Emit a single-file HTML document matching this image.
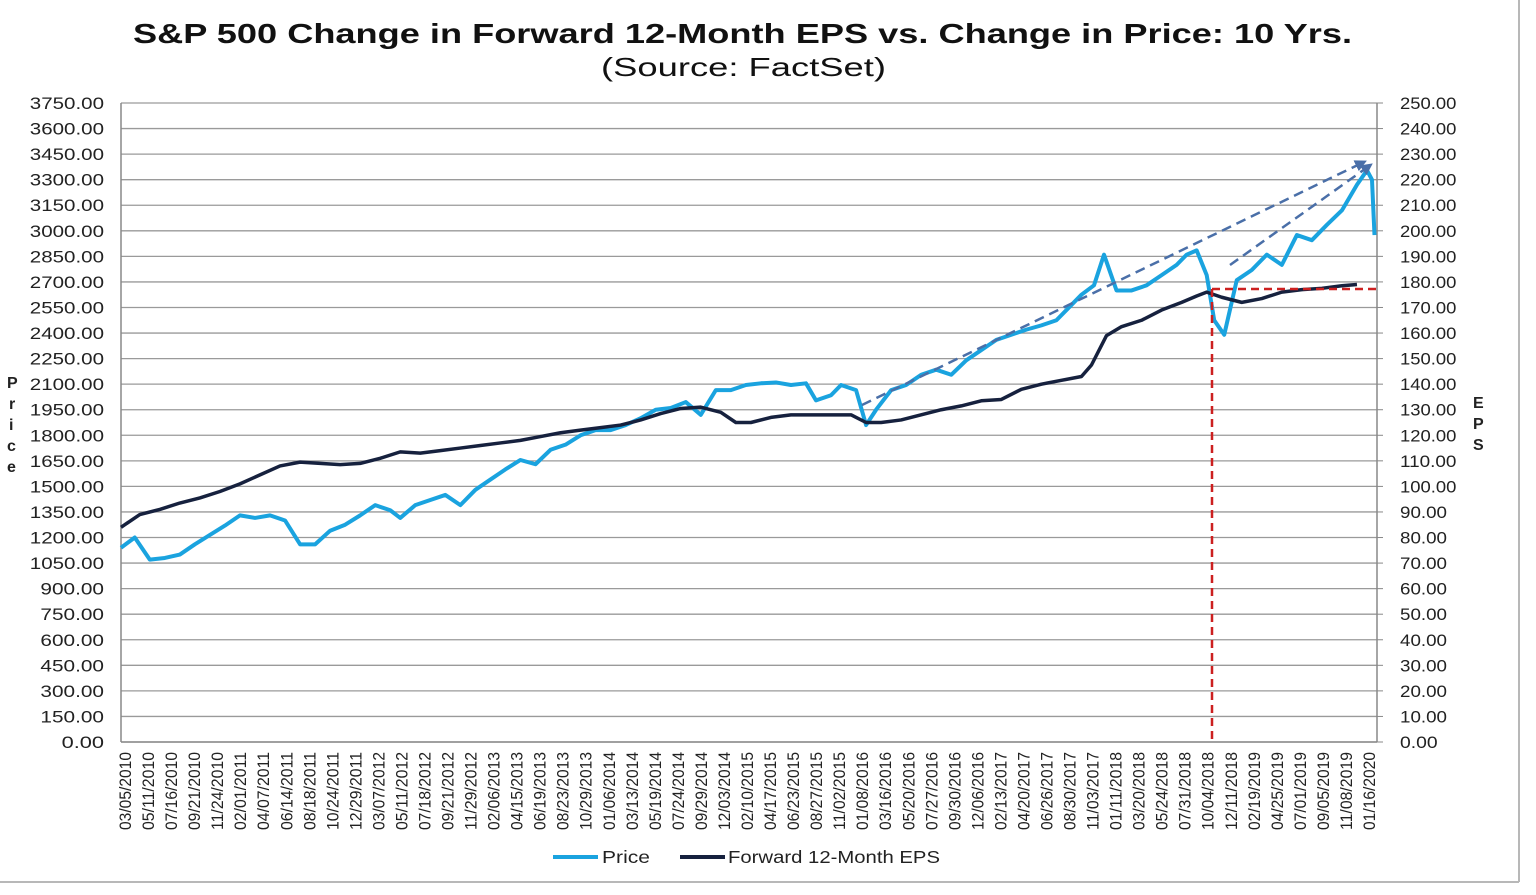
<!DOCTYPE html>
<html><head><meta charset="utf-8"><style>
html,body{margin:0;padding:0;background:#fff;}
svg{display:block;font-family:"Liberation Sans",Arial,sans-serif;}
</style></head><body>
<svg id="chart" width="1536" height="895" viewBox="0 0 1536 895" xmlns="http://www.w3.org/2000/svg">
<rect x="0" y="0" width="1536" height="895" fill="#fff"/>
<line x1="0" y1="882" x2="1519" y2="882" stroke="#b8b8b8" stroke-width="2"/>
<line x1="1519" y1="0" x2="1519" y2="882" stroke="#b8b8b8" stroke-width="2"/>
<text x="133" y="43" textLength="1219" lengthAdjust="spacingAndGlyphs" font-size="28" font-weight="bold" fill="#111">S&amp;P 500 Change in Forward 12-Month EPS vs. Change in Price: 10 Yrs.</text>
<text x="601" y="76" textLength="285" lengthAdjust="spacingAndGlyphs" font-size="26" fill="#111">(Source: FactSet)</text>
<g id="grid"></g><g id="axes"></g><g id="series"></g><g id="annot"></g>
<text x="12" y="388" font-size="16" font-weight="bold" fill="#222"><tspan x="7" dy="0">P</tspan><tspan x="9" dy="21">r</tspan><tspan x="9" dy="21">i</tspan><tspan x="7" dy="21">c</tspan><tspan x="7" dy="21">e</tspan></text>
<text font-size="16" font-weight="bold" fill="#222" y="408"><tspan x="1473" dy="0">E</tspan><tspan x="1473" dy="21">P</tspan><tspan x="1473" dy="21">S</tspan></text>
<g>
<line x1="553" y1="857" x2="598" y2="857" stroke="#1aa3df" stroke-width="4"/>
<text x="602" y="863" textLength="48" lengthAdjust="spacingAndGlyphs" font-size="17.5" fill="#222">Price</text>
<line x1="680" y1="857" x2="725" y2="857" stroke="#16213e" stroke-width="4"/>
<text x="728" y="863" textLength="212" lengthAdjust="spacingAndGlyphs" font-size="17.5" fill="#222">Forward 12-Month EPS</text>
</g>
</svg>
<script>
const dateLabels=["03/05/2010","05/11/2010","07/16/2010","09/21/2010","11/24/2010","02/01/2011","04/07/2011","06/14/2011","08/18/2011","10/24/2011","12/29/2011","03/07/2012","05/11/2012","07/18/2012","09/21/2012","11/29/2012","02/06/2013","04/15/2013","06/19/2013","08/23/2013","10/29/2013","01/06/2014","03/13/2014","05/19/2014","07/24/2014","09/29/2014","12/03/2014","02/10/2015","04/17/2015","06/23/2015","08/27/2015","11/02/2015","01/08/2016","03/16/2016","05/20/2016","07/27/2016","09/30/2016","12/06/2016","02/13/2017","04/20/2017","06/26/2017","08/30/2017","11/03/2017","01/11/2018","03/20/2018","05/24/2018","07/31/2018","10/04/2018","12/11/2018","02/19/2019","04/25/2019","07/01/2019","09/05/2019","11/08/2019","01/16/2020"];
const priceTicks=[0,150,300,450,600,750,900,1050,1200,1350,1500,1650,1800,1950,2100,2250,2400,2550,2700,2850,3000,3150,3300,3450,3600,3750];
const epsTicks=[0,10,20,30,40,50,60,70,80,90,100,110,120,130,140,150,160,170,180,190,200,210,220,230,240,250];
const priceT=[2010.17,2010.28,2010.40,2010.52,2010.64,2010.76,2010.88,2011.00,2011.12,2011.24,2011.36,2011.48,2011.60,2011.72,2011.84,2011.96,2012.08,2012.20,2012.32,2012.40,2012.52,2012.64,2012.76,2012.88,2013.00,2013.12,2013.24,2013.36,2013.48,2013.60,2013.72,2013.84,2013.96,2014.08,2014.20,2014.32,2014.44,2014.56,2014.68,2014.80,2014.92,2015.04,2015.16,2015.28,2015.40,2015.52,2015.64,2015.72,2015.84,2015.92,2016.04,2016.12,2016.20,2016.32,2016.44,2016.56,2016.68,2016.80,2016.92,2017.04,2017.16,2017.28,2017.40,2017.52,2017.64,2017.76,2017.84,2017.94,2018.02,2018.12,2018.24,2018.36,2018.48,2018.60,2018.68,2018.76,2018.84,2018.90,2018.98,2019.08,2019.20,2019.32,2019.44,2019.56,2019.68,2019.80,2019.92,2020.04,2020.12,2020.16,2020.18];
const priceVals=[1140,1200,1070,1080,1100,1160,1215,1270,1330,1315,1330,1300,1160,1160,1240,1275,1330,1390,1360,1315,1390,1420,1450,1390,1480,1540,1600,1655,1630,1715,1745,1800,1830,1830,1860,1900,1950,1960,1995,1920,2065,2065,2095,2105,2110,2095,2105,2005,2035,2095,2065,1860,1950,2065,2095,2155,2185,2155,2240,2300,2360,2390,2420,2445,2475,2565,2625,2680,2860,2650,2650,2680,2740,2800,2860,2885,2740,2475,2390,2710,2770,2860,2800,2975,2945,3035,3120,3270,3355,3300,2975];
const epsT=[2010.17,2010.32,2010.48,2010.64,2010.80,2010.96,2011.12,2011.28,2011.44,2011.60,2011.76,2011.92,2012.08,2012.24,2012.40,2012.56,2012.72,2012.88,2013.04,2013.20,2013.36,2013.52,2013.68,2013.84,2014.00,2014.16,2014.32,2014.48,2014.64,2014.80,2014.96,2015.08,2015.20,2015.36,2015.52,2015.68,2015.84,2016.00,2016.12,2016.24,2016.40,2016.56,2016.72,2016.88,2017.04,2017.20,2017.36,2017.52,2017.68,2017.84,2017.92,2018.04,2018.16,2018.32,2018.48,2018.64,2018.76,2018.84,2018.96,2019.12,2019.28,2019.44,2019.60,2019.76,2019.92,2020.04];
const epsVals=[84,89,91,93.5,95.5,98,101,104.5,108,109.5,109,108.5,109,111,113.5,113,114,115,116,117,118,119.5,121,122,123,124,126,128.5,130.5,131,129,125,125,127,128,128,128,128,125,125,126,128,130,131.5,133.5,134,138,140,141.5,143,147.5,159,162.5,165,169,172,174.5,176,174,172,173.5,176,177,177.5,178.5,179,178];
const NS="http://www.w3.org/2000/svg";
const L=121,R=1377,T=103,B=742;
const xS=t=>L+(t-2010.17)/(2020.20-2010.17)*(R-L);
const yP=v=>B-v/3750*(B-T);
const yE=v=>B-v/250*(B-T);
function mk(tag,attrs,parent){const e=document.createElementNS(NS,tag);for(const k in attrs)e.setAttribute(k,attrs[k]);parent.appendChild(e);return e;}
const grid=document.getElementById('grid'),axes=document.getElementById('axes'),ser=document.getElementById('series'),an=document.getElementById('annot');
priceTicks.forEach((v,i)=>{
 const y=yP(v);
 const g=mk('line',{x1:L,y1:y,x2:R,y2:y,stroke:'#9a9a9a','stroke-width':1.3},grid);
 
 
 const lbl=v.toFixed(2);
 const t=mk('text',{x:104,y:y+6,'text-anchor':'end','font-size':17,fill:'#222',textLength:lbl.length*10.6,lengthAdjust:'spacingAndGlyphs'},axes);t.textContent=lbl;
 
 
 const l2=epsTicks[i].toFixed(2);
 const t2=mk('text',{x:1400,y:yE(epsTicks[i])+6,'font-size':17,fill:'#222',textLength:l2.length*9.4,lengthAdjust:'spacingAndGlyphs'},axes);t2.textContent=l2;
 
 
 mk('line',{x1:R,y1:y,x2:R+6,y2:y,stroke:'#888'},axes);
});
const ax1=mk('line',{x1:L,y1:T,x2:L,y2:B,stroke:'#888','stroke-width':1.5},axes);

const ax2=mk('line',{x1:R,y1:T,x2:R,y2:B,stroke:'#888','stroke-width':1.5},axes);

const ax3=mk('line',{x1:L,y1:B,x2:R,y2:B,stroke:'#888','stroke-width':1.5},axes);

const step=(R-L-12)/(dateLabels.length-1);
dateLabels.forEach((d,i)=>{
 const x=L+4+i*step;
 const t=mk('text',{x:0,y:0,'text-anchor':'end','font-size':16.5,fill:'#222',textLength:78,lengthAdjust:'spacingAndGlyphs',transform:`translate(${x+6},${B+10}) rotate(-90)`},axes);
 t.textContent=d;
 
 
});
const pp=mk('polyline',{points:priceT.map((t,i)=>xS(t)+','+yP(priceVals[i])).join(' '),fill:'none',stroke:'#1aa3df','stroke-width':4,'stroke-linejoin':'round'},ser);

const ep=mk('polyline',{points:epsT.map((t,i)=>xS(t)+','+yE(epsVals[i])).join(' '),fill:'none',stroke:'#16213e','stroke-width':3.5,'stroke-linejoin':'round'},ser);

const defs=mk('defs',{},an);
const m=mk('marker',{id:'ah',markerWidth:12,markerHeight:12,refX:11,refY:6,orient:'auto',markerUnits:'userSpaceOnUse'},defs);
mk('path',{d:'M0,0 L12,6 L0,12 Z',fill:'#4a6fa8'},m);
const a1=mk('line',{x1:862,y1:405,x2:1366,y2:161,stroke:'#4a6fa8','stroke-width':2.5,'stroke-dasharray':'10,6','marker-end':'url(#ah)'},an);

const a2=mk('line',{x1:1230,y1:265,x2:1372,y2:164,stroke:'#4a6fa8','stroke-width':2.5,'stroke-dasharray':'10,6','marker-end':'url(#ah)'},an);

const r1=mk('line',{x1:1212,y1:289,x2:R,y2:289,stroke:'#cc2020','stroke-width':2.5,'stroke-dasharray':'8,5'},an);

const r2=mk('line',{x1:1212,y1:289,x2:1212,y2:B,stroke:'#cc2020','stroke-width':2.5,'stroke-dasharray':'8,5'},an);

</script>
</body></html>
